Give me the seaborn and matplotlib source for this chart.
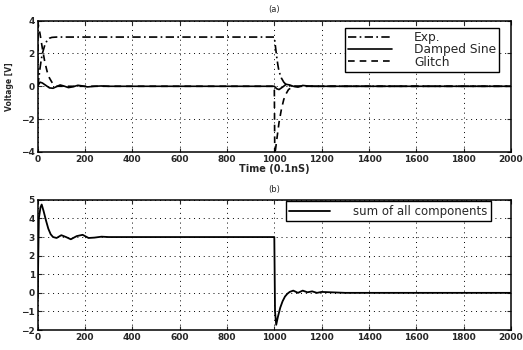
import pandas as pd
import matplotlib
matplotlib.use('Agg')
import matplotlib.pyplot as plt
import seaborn as sns

# values
exp_t = [0, 5, 10, 15, 20, 30, 40, 50, 60, 80, 1000, 1005, 1010, 1015, 1020, 1030, 1040, 1050, 1060, 1080, 2000]
exp_v = [0, 0.5, 1.1, 1.6, 2.0, 2.5, 2.8, 2.93, 2.98, 3.0, 3.0, 2.4, 1.8, 1.3, 0.9, 0.5, 0.25, 0.1, 0.03, 0, 0]

sine_t = [0, 10, 20, 35, 50, 65, 80, 95, 110, 130, 150, 170, 190, 210, 240, 270, 300,
          1000, 1010, 1020, 1035, 1050, 1065, 1080, 1100, 1120, 1140, 1170, 1200, 2000]
sine_v = [0, 0.25, 0.2, 0.05, -0.1, -0.12, -0.02, 0.08, 0.02, -0.08, -0.03, 0.06, 0.02, -0.04, 0, 0.02, 0,
          0, -0.15, -0.2, -0.05, 0.12, 0.08, 0, -0.05, 0.05, 0.02, 0, 0, 0]

glitch_t = [0, 2, 10, 20, 30, 40, 50, 60, 70, 80, 1000, 1002, 1010, 1020, 1030, 1040, 1050, 1060, 1070, 1080, 2000]
glitch_v = [0, 3.8, 3.2, 2.3, 1.5, 0.9, 0.5, 0.25, 0.1, 0, 0, -4.2, -3.3, -2.2, -1.4, -0.8, -0.45, -0.2, -0.1, 0, 0]

sum_t = [0, 5, 12, 17, 25, 35, 45, 55, 65, 80, 100, 120, 140, 165, 190, 215, 240, 270, 300, 400, 500,
         1000, 1003, 1008, 1015, 1025, 1035, 1045, 1055, 1065, 1080, 1100, 1120, 1140, 1160, 1180, 1200, 1300, 2000]
sum_v = [-0.3, 4.0, 4.6, 4.75, 4.4, 3.9, 3.45, 3.15, 3.0, 2.95, 3.1, 3.0, 2.88, 3.05, 3.12, 2.95, 2.97, 3.02, 3.0, 3.0, 3.0,
         3.0, -1.0, -1.72, -1.3, -0.8, -0.45, -0.2, -0.05, 0.05, 0.12, 0.0, 0.12, 0.03, 0.08, 0.0, 0.05, 0.0, 0.0]

x_ticks = list(range(0, 2001, 200))

sns.set_style('ticks')
plt.rcParams['font.family'] = ['DejaVu Sans']

fig = plt.figure(figsize=(5.23, 3.5), dpi=100)
ax1 = fig.add_axes([0.072, 0.566, 0.905, 0.375])
ax2 = fig.add_axes([0.072, 0.057, 0.905, 0.372])

sns.lineplot(x=exp_t, y=exp_v, ax=ax1, color='black', lw=1.2, label='Exp.')
ax1.lines[-1].set_linestyle((0, (5, 2, 1, 2)))
sns.lineplot(x=sine_t, y=sine_v, ax=ax1, color='black', lw=1.2, label='Damped Sine')
sns.lineplot(x=glitch_t, y=glitch_v, ax=ax1, color='black', lw=1.2, label='Glitch')
ax1.lines[-1].set_linestyle((0, (4, 3)))

sns.lineplot(x=sum_t, y=sum_v, ax=ax2, color='black', lw=1.3, label='sum of all components')

for ax in (ax1, ax2):
    ax.set_xlim(0, 2000)
    ax.set_xticks(x_ticks)
    ax.grid(True, color='black', linestyle=(0, (1, 4)), linewidth=0.7)
    ax.tick_params(direction='in', top=True, right=True, length=3, width=0.8, labelsize=6.5, pad=2)
    for lab in ax.get_xticklabels() + ax.get_yticklabels():
        lab.set_fontweight('bold')
    for s in ax.spines.values():
        s.set_color('black')
        s.set_linewidth(1.1)

ax1.set_ylim(-4, 4)
ax1.set_yticks([-4, -2, 0, 2, 4])
ax1.set_title('(a)', fontsize=6, pad=6)
ax1.set_xlabel('Time (0.1nS)', fontsize=7, fontweight='bold', labelpad=0)
ax1.set_ylabel('Voltage [V]', fontsize=5.5, fontweight='bold', labelpad=5)
leg1 = ax1.legend(loc='upper right', bbox_to_anchor=(0.975, 0.945), fontsize=8.8, frameon=True, fancybox=False,
                  handlelength=3.6, labelspacing=-0.05, borderpad=0.25, handletextpad=1.8, borderaxespad=0)
leg1.get_frame().set_edgecolor('black')
leg1.get_frame().set_linewidth(1.0)
leg1.get_frame().set_alpha(1)

ax2.set_ylim(-2, 5)
ax2.set_yticks(list(range(-2, 6)))
ax2.set_title('(b)', fontsize=6, pad=6)
ax2.set_xlabel('')
leg2 = ax2.legend(loc='upper right', bbox_to_anchor=(0.958, 0.99), fontsize=8.5, frameon=True, fancybox=False,
                  handlelength=3.4, borderpad=0.3, handletextpad=2.0, borderaxespad=0)
leg2.get_frame().set_edgecolor('black')
leg2.get_frame().set_linewidth(1.0)
leg2.get_frame().set_alpha(1)

fig.savefig('out.png', dpi=100)
